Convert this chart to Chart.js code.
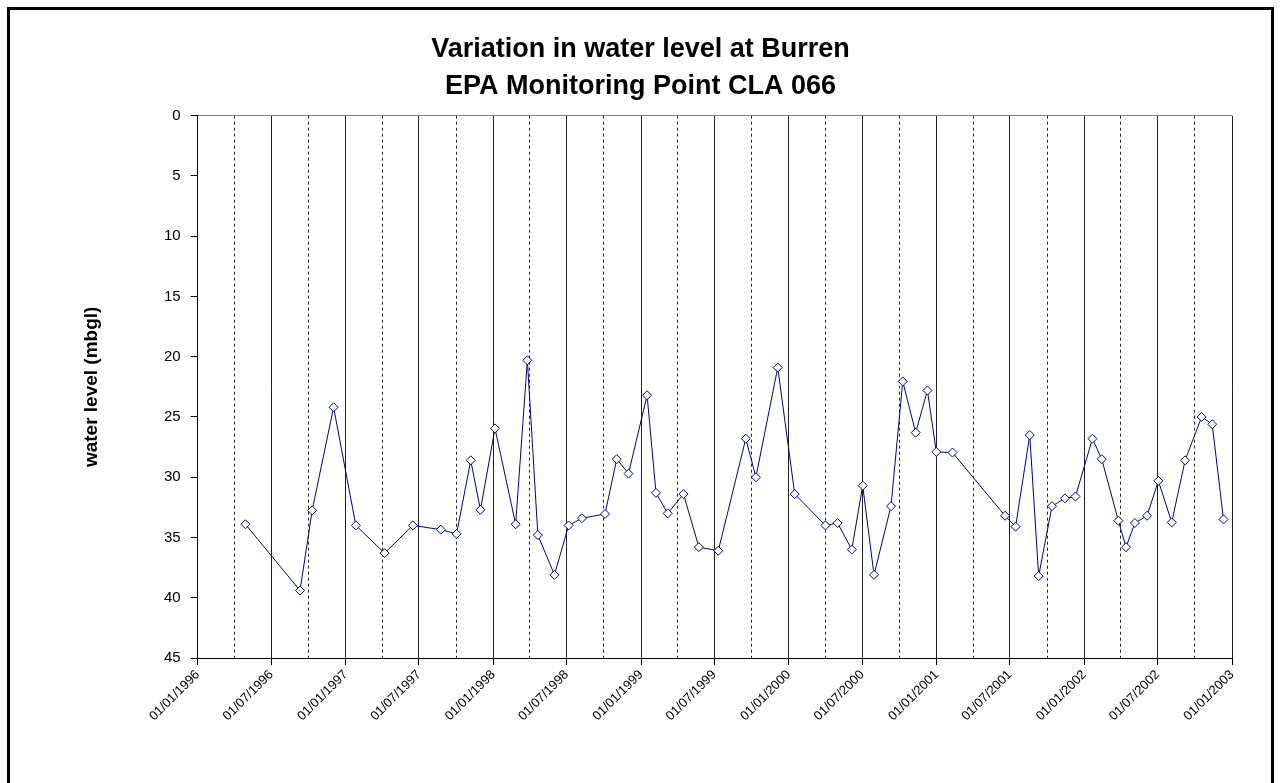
<!DOCTYPE html>
<html>
<head>
<meta charset="utf-8">
<script src="https://cdn.jsdelivr.net/npm/chart.js@4.4.1/dist/chart.umd.min.js"></script>
<style>
html, body { margin:0; padding:0; background:#fff; overflow:hidden; width:1281px; height:783px; }
#frame { position:absolute; left:7px; top:7px; width:1261px; height:1000px; border:3px solid #000; }
#wrap { position:absolute; left:0; top:0; width:1281px; height:783px; }
</style>
</head>
<body>
<div id="frame"></div>
<div id="wrap"><canvas id="c" width="1281" height="783"></canvas></div>
<script>
// ---- Data ----
const titleLines = ['Variation in water level at Burren', 'EPA Monitoring Point CLA 066'];
const yAxisTitle = 'water level (mbgl)';

const sampleDates = [
  '1996-04-28','1996-09-10','1996-10-10','1996-12-02','1997-01-26','1997-04-07','1997-06-16','1997-08-24',
  '1997-10-02','1997-11-06','1997-11-30','1998-01-05','1998-02-25','1998-03-26','1998-04-21','1998-06-01',
  '1998-07-06','1998-08-08','1998-10-04','1998-11-02','1998-12-01','1999-01-16','1999-02-07','1999-03-08',
  '1999-04-16','1999-05-24','1999-07-11','1999-09-17','1999-10-12','1999-12-05','2000-01-16','2000-04-01',
  '2000-05-01','2000-06-05','2000-07-02','2000-07-30','2000-09-10','2000-10-09','2000-11-10','2000-12-09',
  '2000-12-31','2001-02-09','2001-06-19','2001-07-15','2001-08-19','2001-09-10','2001-10-13','2001-11-14',
  '2001-12-10','2002-01-21','2002-02-13','2002-03-26','2002-04-14','2002-05-06','2002-06-05','2002-07-03',
  '2002-08-05','2002-09-07','2002-10-18','2002-11-13','2002-12-11'
];
const waterLevel = [
  33.9, 39.4, 32.75, 24.2, 34.0, 36.3, 34.0, 34.35,
  34.7, 28.6, 32.7, 25.95, 33.9, 20.3, 34.8, 38.1,
  34.0, 33.4, 33.05, 28.5, 29.7, 23.2, 31.3, 33.0,
  31.4, 35.8, 36.1, 26.8, 30.0, 20.9, 31.4, 34.0,
  33.8, 36.0, 30.7, 38.1, 32.4, 22.05, 26.3, 22.8,
  27.9, 27.95, 33.2, 34.1, 26.5, 38.2, 32.4, 31.75,
  31.6, 26.8, 28.5, 33.6, 35.8, 33.8, 33.2, 30.3,
  33.75, 28.6, 25.0, 25.6, 33.5
];
const xAxisStart = '1996-01-01';
const xAxisEnd = '2003-01-01';
const yTickValues = [0, 5, 10, 15, 20, 25, 30, 35, 40, 45];

// ---- Helpers ----
const toMs = s => Date.parse(s + 'T00:00:00Z');
const points = sampleDates.map((d, i) => ({ x: toMs(d), y: waterLevel[i] }));

// quarterly ticks; labels every six months
const xTicks = [];
{
  const s = new Date(toMs(xAxisStart)), e = toMs(xAxisEnd);
  for (let m = 0; ; m += 3) {
    const t = Date.UTC(s.getUTCFullYear(), s.getUTCMonth() + m, 1);
    if (t > e) break;
    xTicks.push(t);
  }
}
const isMajor = v => { const d = new Date(v); return d.getUTCMonth() % 6 === 0; };
const fmt = v => {
  const d = new Date(v);
  const dd = String(d.getUTCDate()).padStart(2, '0');
  const mm = String(d.getUTCMonth() + 1).padStart(2, '0');
  return dd + '/' + mm + '/' + d.getUTCFullYear();
};

const FONT = "'Liberation Sans', Arial, sans-serif";

new Chart(document.getElementById('c'), {
  type: 'line',
  data: {
    datasets: [{
      data: points,
      borderColor: '#000080',
      borderWidth: 1,
      tension: 0,
      fill: false,
      pointStyle: 'rectRot',
      pointRadius: 4.5,
      pointBackgroundColor: '#ffffff',
      pointBorderColor: '#000080',
      pointBorderWidth: 1,
      yAxisID: 'y'
    }]
  },
  options: {
    responsive: false,
    animation: false,
    layout: { padding: { left: 0, right: 0, top: 0, bottom: 0 } },
    plugins: {
      legend: { display: false },
      tooltip: { enabled: false },
      title: {
        display: true,
        text: titleLines,
        color: '#000',
        font: { family: FONT, size: 27, weight: 'bold', lineHeight: 1.37 },
        padding: { top: 31.5, bottom: 10.2 }
      }
    },
    scales: {
      x: {
        type: 'linear',
        min: toMs(xAxisStart),
        max: toMs(xAxisEnd),
        afterBuildTicks: s => { s.ticks = xTicks.map(v => ({ value: v })); },
        afterFit: s => { s.height = 125; },
        ticks: {
          autoSkip: false,
          maxRotation: 45,
          minRotation: 45,
          padding: 2,
          color: '#000',
          font: { family: FONT, size: 13 },
          callback: v => isMajor(v) ? fmt(v) : ''
        },
        grid: {
          color: '#222',
          lineWidth: 1,
          tickLength: 7,
          tickColor: c => (c.tick && isMajor(c.tick.value)) ? '#000' : 'rgba(0,0,0,0)'
        },
        border: {
          color: '#000',
          width: 1,
          dash: c => (c.tick && !isMajor(c.tick.value)) ? [3, 3] : []
        }
      },
      y: {
        type: 'linear',
        position: 'left',
        reverse: true,
        min: 0,
        max: 45,
        afterBuildTicks: s => { s.ticks = yTickValues.map(v => ({ value: v })); },
        afterFit: s => { s.width = 197.7; },
        ticks: {
          padding: 10,
          color: '#000',
          font: { family: FONT, size: 15 }
        },
        grid: {
          color: c => (c.tick && c.tick.value === 0) ? '#808080' : 'rgba(0,0,0,0)',
          tickColor: '#000',
          tickLength: 7
        },
        border: { color: '#000', width: 1 },
        title: {
          display: true,
          text: yAxisTitle,
          color: '#000',
          font: { family: FONT, size: 19, weight: 'bold' },
          padding: { top: 80.6, bottom: 0 }
        }
      },
      yRight: {
        type: 'linear',
        position: 'right',
        min: 0,
        max: 45,
        afterFit: s => { s.width = 49; },
        ticks: { display: false },
        grid: { display: false },
        border: { display: false }
      }
    }
  }
});
</script>
</body>
</html>
